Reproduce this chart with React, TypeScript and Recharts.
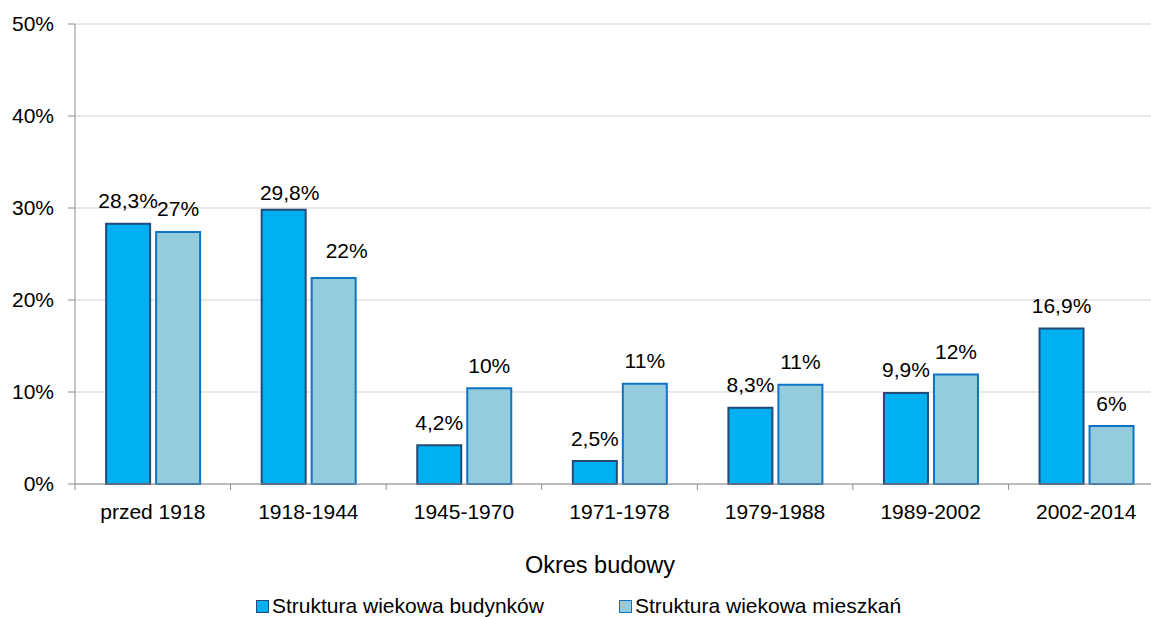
import React from 'react';
import { BarChart, Bar, XAxis, YAxis, CartesianGrid, Legend, Label } from 'recharts';

const categories = ['przed 1918', '1918-1944', '1945-1970', '1971-1978', '1979-1988', '1989-2002', '2002-2014'];
const budynkiValues = [28.3, 29.8, 4.2, 2.5, 8.3, 9.9, 16.9];
const mieszkaniaValues = [27.4, 22.4, 10.4, 10.9, 10.8, 11.9, 6.3];
const yTicks = [0, 10, 20, 30, 40, 50];
const seriesNames = ['Struktura wiekowa budynków', 'Struktura wiekowa mieszkań'];
const xAxisTitle = 'Okres budowy';

const data = categories.map((c, i) => ({ name: c, budynki: budynkiValues[i], mieszkania: mieszkaniaValues[i] }));

const FONT = "'Liberation Sans', Arial, sans-serif";
const FILLS = ['#00B0F0', '#93CDDD'];
const STROKES = ['#244A78', '#1173C4'];
const AXIS = '#8E8E8E';
const GRID = '#D3D3D3';

const CHART_W = 1170;
const CHART_H = 617;
const MARGIN = { top: 24, right: 6, left: 0, bottom: 0 };
const Y_W = 75;
const X_H = 133;
const PLOT_W = CHART_W - MARGIN.left - MARGIN.right - Y_W;
const BAND = PLOT_W / categories.length;

const labelNudge: Record<string, Record<number, [number, number]>> = {
  budynki: { 1: [6, 5.5] },
  mieszkania: { 1: [13, -4.5] },
};

const fmtBud = (v: number) => v.toFixed(1).replace('.', ',') + '%';
const fmtMie = (v: number) => Math.round(v) + '%';

const makeLabel = (key: string, fmt: (v: number) => string) => (p: any) => {
  const { x, y, width, value, index } = p;
  const n = labelNudge[key][index] || [0, 0];
  return (
    <text
      x={Number(x) + Number(width) / 2 + n[0]}
      y={Number(y) - 15.5 + n[1]}
      textAnchor="middle"
      fontFamily={FONT}
      fontSize={21}
      fill="#000"
    >
      {fmt(Number(value))}
    </text>
  );
};

const XTick = (props: any) => {
  const { x, y, payload } = props;
  const bx = x - BAND / 2;
  return (
    <g>
      <line x1={bx} y1={y} x2={bx} y2={y + 6} stroke={AXIS} strokeWidth={1} />
      <text x={x} y={y + 35} textAnchor="middle" fontFamily={FONT} fontSize={21} fill="#000">
        {payload.value}
      </text>
    </g>
  );
};

const renderLegend = (props: any) => {
  const payload = props.payload || [];
  return (
    <div style={{ display: 'flex', alignItems: 'center', fontFamily: FONT, fontSize: 21, color: '#000', lineHeight: '24px', whiteSpace: 'nowrap' }}>
      {payload.map((p: any, i: number) => (
        <div key={i} style={{ display: 'flex', alignItems: 'center', marginRight: i === 0 ? 75 : 0 }}>
          <span
            style={{
              display: 'inline-block',
              width: 13,
              height: 13,
              boxSizing: 'border-box',
              background: FILLS[i],
              border: `1.5px solid ${STROKES[i]}`,
              marginRight: 3,
            }}
          />
          <span>{p.value}</span>
        </div>
      ))}
    </div>
  );
};

const renderTitle = (p: any) => {
  const vb = p.viewBox || { x: Y_W, y: 484, width: PLOT_W, height: X_H };
  return (
    <text x={vb.x + vb.width / 2 - 19.5} y={vb.y + 89} textAnchor="middle" fontFamily={FONT} fontSize={23.5} fill="#000">
      {xAxisTitle}
    </text>
  );
};

export default function App() {
  return (
    <div style={{ position: 'fixed', left: 0, top: 0, width: 1151, height: 617, overflow: 'hidden', background: '#fff' }}>
      <BarChart width={CHART_W} height={CHART_H} data={data} margin={MARGIN} barCategoryGap="20%" barGap={6}>
        <CartesianGrid vertical={false} stroke={GRID} strokeWidth={1} />
        <XAxis
          dataKey="name"
          height={X_H}
          interval={0}
          tickLine={false}
          tickSize={0}
          tickMargin={0}
          axisLine={{ stroke: AXIS, strokeWidth: 1 }}
          tick={<XTick />}
        >
          <Label content={renderTitle} />
        </XAxis>
        <YAxis
          width={Y_W}
          domain={[0, 50]}
          ticks={yTicks}
          interval={0}
          tickFormatter={(v: number) => v + '%'}
          tickSize={7}
          tickMargin={14}
          tickLine={{ stroke: AXIS }}
          axisLine={{ stroke: AXIS, strokeWidth: 1 }}
          tick={{ fontFamily: FONT, fontSize: 21, fill: '#000' }}
        />
        <Legend
          layout="horizontal"
          verticalAlign="middle"
          align="center"
          content={renderLegend}
          wrapperStyle={{ position: 'absolute', left: 256, top: 594, width: 'auto', height: 'auto' }}
        />
        <Bar
          dataKey="budynki"
          name={seriesNames[0]}
          fill={FILLS[0]}
          stroke={STROKES[0]}
          strokeWidth={2}
          isAnimationActive={false}
          label={makeLabel('budynki', fmtBud)}
        />
        <Bar
          dataKey="mieszkania"
          name={seriesNames[1]}
          fill={FILLS[1]}
          stroke={STROKES[1]}
          strokeWidth={2}
          isAnimationActive={false}
          label={makeLabel('mieszkania', fmtMie)}
        />
      </BarChart>
    </div>
  );
}
